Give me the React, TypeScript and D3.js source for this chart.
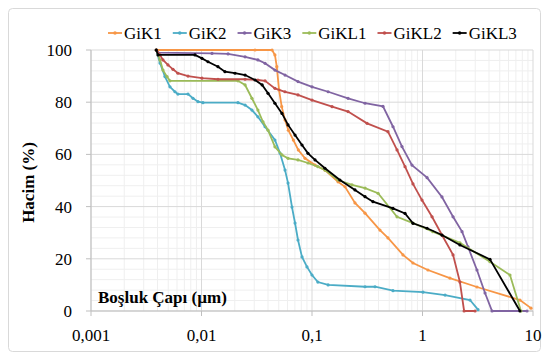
import React from 'react'
import * as d3 from 'd3'

const width = 544
const height = 359
const margin = { left: 91, top: 50, right: 11, bottom: 48 }
const fontFamily = 'Liberation Serif'

const seriesNames = ['GiK1', 'GiK2', 'GiK3', 'GiKL1', 'GiKL2', 'GiKL3']
const seriesColors = ['#F79646', '#4BACC6', '#8064A2', '#9BBB59', '#C0504D', '#000000']

const xTicks = [0.001, 0.01, 0.1, 1, 10]
const xTickLabels = ['0,001', '0,01', '0,1', '1', '10']
const yTicks = [0, 20, 40, 60, 80, 100]

// pore diameter (µm) / cumulative volume (%)
const gik1X = [0.0039, 0.0305, 0.0435, 0.0462, 0.048, 0.0503, 0.0532, 0.057, 0.0611, 0.0678, 0.0752, 0.0865, 0.1065, 0.131, 0.172, 0.199, 0.245, 0.302, 0.412, 0.487, 0.666, 0.82, 1.12, 1.77, 3.11, 7.62, 9.59]
const gik1Y = [100, 100, 100, 98.1, 93.6, 84.7, 78.3, 73.2, 69.3, 65.5, 61.7, 58.5, 55.9, 54.0, 49.5, 47.6, 41.4, 37.5, 31.0, 28.0, 21.5, 18.4, 15.7, 12.6, 9.2, 4.2, 1.1]

const gik2X = [0.0039, 0.00421, 0.00467, 0.00518, 0.00575, 0.00612, 0.00755, 0.00838, 0.00929, 0.0103, 0.0214, 0.0248, 0.0286, 0.0324, 0.0376, 0.0462, 0.0513, 0.057, 0.0607, 0.0659, 0.0702, 0.0747, 0.0812, 0.0901, 0.1, 0.113, 0.14, 0.302, 0.372, 0.541, 1.01, 1.6, 2.69, 3.18]
const gik2Y = [100, 95.0, 89.8, 85.9, 84.0, 83.1, 83.1, 81.5, 80.2, 79.8, 79.8, 78.9, 77.0, 74.4, 70.6, 65.5, 60.5, 54.0, 49.0, 39.8, 33.7, 27.2, 20.7, 16.9, 13.8, 11.1, 10.0, 9.3, 9.3, 7.8, 7.2, 6.1, 4.2, 0.5]

const gik3X = [0.0039, 0.00404, 0.01245, 0.0174, 0.0248, 0.0324, 0.0376, 0.0462, 0.057, 0.0747, 0.1, 0.14, 0.212, 0.302, 0.439, 0.541, 0.652, 0.803, 1.1, 1.5, 1.89, 2.28, 2.58, 3.11, 3.68, 4.26, 8.83]
const gik3Y = [100, 99.0, 98.7, 98.5, 97.4, 96.2, 94.9, 92.3, 90.4, 87.9, 85.9, 84.0, 81.5, 79.6, 78.4, 70.6, 63.0, 55.9, 51.1, 43.7, 36.1, 30.4, 24.6, 15.7, 6.9, 0, 0]

const gikl1X = [0.0039, 0.00421, 0.00448, 0.00487, 0.00518, 0.0214, 0.0248, 0.0286, 0.0324, 0.036, 0.04, 0.0462, 0.0535, 0.0607, 0.0747, 0.092, 0.113, 0.131, 0.172, 0.23, 0.302, 0.396, 0.588, 0.82, 1.24, 2.18, 4.08, 6.19, 7.78]
const gikl1Y = [100, 96.2, 92.3, 89.8, 88.2, 88.2, 86.6, 81.5, 77.0, 72.5, 69.3, 62.9, 59.8, 58.5, 57.9, 56.7, 55.3, 54.0, 50.2, 48.3, 47.1, 45.1, 36.1, 33.7, 30.4, 26.1, 18.9, 13.8, 0]

const gikl2X = [0.0039, 0.00421, 0.00448, 0.00497, 0.00552, 0.00612, 0.00755, 0.0101, 0.0141, 0.0248, 0.0324, 0.0376, 0.0462, 0.057, 0.0747, 0.1, 0.152, 0.212, 0.315, 0.487, 0.588, 0.695, 0.82, 0.989, 1.22, 1.5, 1.89, 2.18, 2.38, 2.99]
const gikl2Y = [100, 98.1, 96.2, 94.3, 92.6, 91.1, 90.0, 89.2, 88.8, 88.8, 88.5, 88.2, 85.3, 84.0, 82.8, 80.8, 78.3, 76.4, 71.9, 68.7, 61.7, 55.3, 48.7, 42.5, 36.1, 29.1, 21.5, 11.1, 0, 0]

const gikl3X = [0.0039, 0.00404, 0.00873, 0.0101, 0.01145, 0.0141, 0.0163, 0.0201, 0.0248, 0.0305, 0.0354, 0.04, 0.0462, 0.0535, 0.0607, 0.0702, 0.0812, 0.092, 0.1065, 0.131, 0.179, 0.245, 0.302, 0.356, 0.541, 0.695, 0.82, 1.1, 1.5, 2.18, 4.08, 7.62]
const gikl3Y = [100, 98.1, 98.1, 96.8, 95.5, 93.6, 91.7, 91.1, 90.4, 88.5, 86.6, 83.4, 79.6, 75.7, 71.3, 67.4, 63.6, 60.4, 57.9, 54.7, 50.2, 46.4, 43.8, 41.9, 39.3, 37.4, 33.6, 31.7, 29.1, 25.3, 19.8, 0]

const seriesX = [gik1X, gik2X, gik3X, gikl1X, gikl2X, gikl3X]
const seriesY = [gik1Y, gik2Y, gik3Y, gikl1Y, gikl2Y, gikl3Y]

function textWidth(text: string, font: string) {
  const canvas = document.createElement('canvas')
  const ctx = canvas.getContext('2d')
  if (!ctx) return text.length * 9
  ctx.font = font
  return ctx.measureText(text).width
}

export default function App() {
  const xScale = d3
    .scaleLog()
    .domain([0.001, 10])
    .range([margin.left, width - margin.right])

  const yScale = d3
    .scaleLinear()
    .domain([0, 100])
    .range([height - margin.bottom, margin.top])

  const line = d3
    .line<[number, number]>()
    .x((d) => xScale(d[0]))
    .y((d) => yScale(d[1]))

  const [x0, x1] = xScale.range()
  const [y0, y1] = yScale.range()

  // minor log gridlines 2..9 in each decade
  const minorX: number[] = []
  for (let e = -3; e < 1; e++) {
    for (let m = 2; m <= 9; m++) minorX.push(m * Math.pow(10, e))
  }
  const minorY = d3.range(0, 101, 4).filter((v) => v % 20 !== 0)

  // legend flow layout
  const legendFont = `17px "${fontFamily}"`
  let lx = 108
  const legendItems = seriesNames.map((name, i) => {
    const item = { name, x: lx, color: seriesColors[i] }
    lx += 16 + textWidth(name, legendFont) + 11
    return item
  })

  const txt = { fontFamily, fontSize: 17 }

  return (
    <svg
      width={width}
      height={height}
      style={{ position: 'absolute', left: 0, top: 0, background: 'white' }}
    >
      <rect x={8.5} y={8.5} width={532} height={343} rx={4} fill="white" stroke="#d9d9d9" />

      {minorX.map((v) => (
        <line key={'mx' + v} x1={xScale(v)} x2={xScale(v)} y1={y0} y2={y1} stroke="#efefef" />
      ))}
      {minorY.map((v) => (
        <line key={'my' + v} x1={x0} x2={x1} y1={yScale(v)} y2={yScale(v)} stroke="#efefef" />
      ))}
      {xTicks.map((v) => (
        <line key={'gx' + v} x1={xScale(v)} x2={xScale(v)} y1={y0} y2={y1} stroke="#d9d9d9" />
      ))}
      {yTicks.map((v) => (
        <line key={'gy' + v} x1={x0} x2={x1} y1={yScale(v)} y2={yScale(v)} stroke="#d9d9d9" />
      ))}

      <line x1={x0} x2={x0} y1={y0} y2={y1} stroke="#bfbfbf" />
      <line x1={x0} x2={x1} y1={y0} y2={y0} stroke="#bfbfbf" />

      {yTicks.map((v) => (
        <g key={'yt' + v}>
          <line x1={x0 - 5} x2={x0} y1={yScale(v)} y2={yScale(v)} stroke="#bfbfbf" />
          <text x={72} y={yScale(v) + 6} textAnchor="end" style={txt}>
            {v}
          </text>
        </g>
      ))}
      {xTicks.map((v, i) => (
        <g key={'xt' + v}>
          <line x1={xScale(v)} x2={xScale(v)} y1={y0} y2={y0 + 5} stroke="#bfbfbf" />
          <text x={xScale(v)} y={341} textAnchor="middle" style={txt}>
            {xTickLabels[i]}
          </text>
        </g>
      ))}

      {seriesNames.map((name, i) => {
        const pts = seriesX[i].map((x, j) => [x, seriesY[i][j]] as [number, number])
        return (
          <g key={name}>
            <path d={line(pts) || ''} fill="none" stroke={seriesColors[i]} strokeWidth={1.8} />
            {pts.map((p, j) => (
              <circle key={j} cx={xScale(p[0])} cy={yScale(p[1])} r={1.6} fill={seriesColors[i]} />
            ))}
          </g>
        )
      })}

      <text
        transform={`translate(28,${(y0 + y1) / 2 + 2}) rotate(-90)`}
        textAnchor="middle"
        style={{ ...txt, fontWeight: 'bold' }}
        dy="0.35em"
      >
        Hacim (%)
      </text>
      <text x={98} y={303} style={{ ...txt, fontWeight: 'bold' }}>
        Boşluk Çapı (µm)
      </text>

      {legendItems.map((it) => (
        <g key={it.name}>
          <line x1={it.x} x2={it.x + 14} y1={33} y2={33} stroke={it.color} strokeWidth={1.8} />
          <circle cx={it.x + 7} cy={33} r={1.8} fill={it.color} />
          <text x={it.x + 16} y={39} style={txt}>
            {it.name}
          </text>
        </g>
      ))}
    </svg>
  )
}
